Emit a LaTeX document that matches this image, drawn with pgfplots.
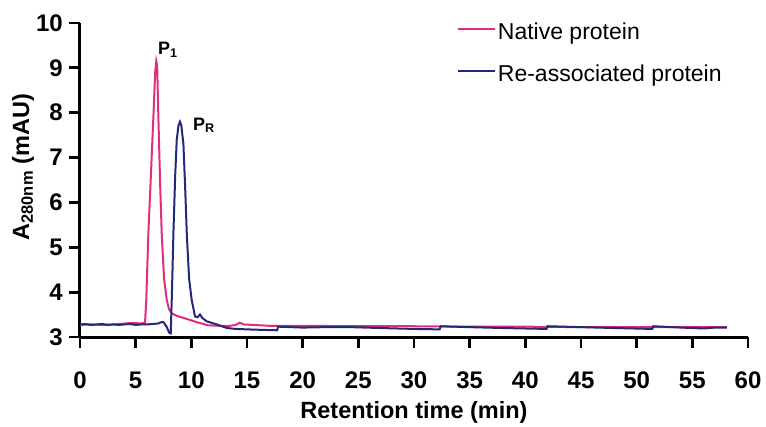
\documentclass[border=0pt]{standalone}
\usepackage{fontspec}
\setmainfont{Liberation Sans}
\usepackage{pgfplots}
\usetikzlibrary{calc}
\pgfplotsset{compat=1.18}
\definecolor{pinkc}{RGB}{226,44,124}
\definecolor{navyc}{RGB}{34,40,122}
\begin{document}
\begin{tikzpicture}
\begin{axis}[
  scale only axis, width=668bp, height=314bp,
  xmin=0, xmax=60, ymin=3, ymax=10,
  axis x line=bottom, axis y line=left,
  axis line style={line width=3bp,-},
  xtick={0,5,...,60}, ytick={3,4,...,10},
  tick align=outside, tickwidth=10bp,
  tick style={draw=black, line width=2.5bp},
  /pgf/number format/assume math mode=true,
  xticklabel style={font=\fontsize{24bp}{28bp}\selectfont\bfseries, anchor=base, inner sep=0pt, yshift=-41bp},
  yticklabel style={font=\fontsize{24bp}{28bp}\selectfont\bfseries, anchor=east, inner sep=0pt, xshift=-7bp},
  every axis x label/.style={at={([yshift=-81bp]axis description cs:0.5,0)}, anchor=base, font=\fontsize{23.5bp}{28bp}\selectfont\bfseries},
  every axis y label/.style={at={([xshift=-57bp]axis description cs:0,0.541)}, rotate=90, anchor=center, font=\fontsize{23.5bp}{28bp}\selectfont\bfseries},
  xlabel={Retention time (min)},
  ylabel={A\textsubscript{280nm} (mAU)},
  legend style={at={(axis description cs:0.564,1.008)}, anchor=north west, draw=none, fill=none,
    font=\fontsize{23bp}{27bp}\selectfont, row sep=20bp, inner sep=0pt},
  legend cell align=left,
  legend image code/.code={\draw[#1] (0bp,3bp) -- (37bp,3bp);},
  clip=false,
]
\addplot[pinkc, line width=2bp] coordinates {
(0,3.27) (1,3.28) (2,3.27) (3,3.28) (4,3.30) (4.5,3.31) (5,3.31) (5.5,3.30)
(5.84,3.32) (5.95,3.8) (6.05,4.6) (6.14,5.31) (6.35,6.5) (6.59,7.9) (6.75,8.9) (6.85,9.15) (6.93,9.05)
(7.04,7.9) (7.2,6.4) (7.34,5.31) (7.55,4.3)
(7.79,3.83) (8.0,3.62) (8.24,3.53) (8.7,3.47) (9.5,3.41) (10.5,3.33) (11.5,3.26)
(12.5,3.25) (13.5,3.25) (14.0,3.27) (14.35,3.32) (14.7,3.28) (15.5,3.27)
(17,3.25) (20,3.25) (25,3.24) (30,3.24) (35,3.23) (40,3.23) (45,3.22)
(50,3.22) (55,3.22) (58.1,3.22)
};
\addlegendentry{Native protein}
\addplot[navyc, line width=2bp] coordinates {
(0,3.28) (0.5,3.29) (1,3.27) (1.5,3.28) (2,3.29) (2.5,3.27) (3,3.28) (3.5,3.27)
(4,3.28) (4.5,3.29) (5,3.27) (5.5,3.28) (6,3.28) (6.5,3.29) (7,3.30) (7.3,3.33)
(7.5,3.33) (7.8,3.22) (8.0,3.10) (8.15,3.08) (8.25,3.9) (8.39,5.31) (8.55,6.6) (8.69,7.4) (8.85,7.72)
(8.98,7.80) (9.1,7.72) (9.29,7.3) (9.45,6.3) (9.59,5.31) (9.8,4.3) (10.03,3.83) (10.33,3.46)
(10.55,3.44) (10.78,3.50) (11.0,3.42) (11.38,3.35) (12.28,3.28) (13.2,3.20)
(14,3.18) (15,3.17) (16.2,3.16) (17.7,3.15) (17.8,3.23) (20,3.21) (22,3.22)
(24.3,3.22) (27,3.20) (30,3.18) (32.3,3.17) (32.4,3.24) (35,3.22) (38,3.20)
(41.9,3.18) (42.0,3.24) (45,3.22) (48,3.20) (51.4,3.18) (51.5,3.24) (54,3.21)
(56,3.19) (57,3.21) (58.1,3.21)
};
\addlegendentry{Re-associated protein}
\coordinate (org) at (axis cs:0,3);
\coordinate (xend) at (axis cs:60,3);
\coordinate (yend) at (axis cs:0,10);
\node[anchor=base west, inner sep=0pt, font=\fontsize{18bp}{20bp}\selectfont\bfseries] at (axis cs:7.0,9.29) {P\textsubscript{1}};
\node[anchor=base west, inner sep=0pt, font=\fontsize{18bp}{20bp}\selectfont\bfseries] at (axis cs:10.15,7.61) {P\textsubscript{R}};
\end{axis}
\foreach \i in {0,...,12}{
  \node[anchor=north, inner sep=0pt, outer sep=0pt] at ($(org)!\i/12!(xend)$) {\rule{2.8bp}{11bp}};
}
\foreach \i in {0,...,7}{
  \node[anchor=east, inner sep=0pt, outer sep=0pt] at ($(org)!\i/7!(yend)$) {\rule[-1.4bp]{11bp}{2.8bp}};
}
\path[draw=none] (org) ++(-80bp,-88bp) rectangle ++(766bp,425bp);
\end{tikzpicture}
\end{document}
